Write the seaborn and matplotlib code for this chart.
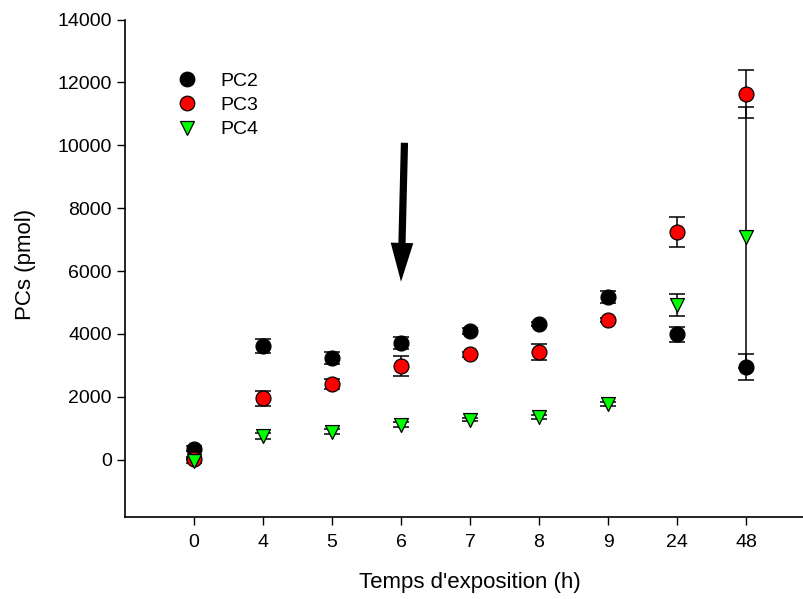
import matplotlib
matplotlib.use("Agg")
import matplotlib.pyplot as plt
import seaborn as sns
import pandas as pd
import numpy as np
from matplotlib.lines import Line2D

# ---- data ----
times = ["0", "4", "5", "6", "7", "8", "9", "24", "48"]
pc2 = [350, 3610, 3240, 3720, 4090, 4320, 5180, 3990, 2950]
pc2_err = [80, 220, 190, 190, 90, 60, 190, 240, 420]
pc3 = [40, 1950, 2410, 2980, 3350, 3430, 4440, 7250, 11630]
pc3_err = [60, 240, 150, 320, 70, 250, 60, 480, 760]
pc4 = [-40, 760, 890, 1110, 1280, 1370, 1770, 4920, 7070]
pc4_err = [50, 100, 80, 80, 60, 60, 60, 360, 4160]
series = ["PC2", "PC3", "PC4"]
y_ticks = [0, 2000, 4000, 6000, 8000, 10000, 12000, 14000]
arrow_time = "6"
arrow_from, arrow_to = 10080, 5660

sns.set_theme(style="white")
plt.rcParams["font.family"] = ["Liberation Sans", "DejaVu Sans"]
plt.rcParams["text.color"] = "black"
plt.rcParams["axes.labelcolor"] = "black"

rows = []
for name, vals, errs in zip(series, [pc2, pc3, pc4], [pc2_err, pc3_err, pc4_err]):
    for i, (t, v, e) in enumerate(zip(times, vals, errs)):
        rows.append({"idx": i, "time": t, "value": v, "err": e, "series": name})
df = pd.DataFrame(rows)

fig = plt.figure(figsize=(8.04, 5.99), dpi=100)
ax = fig.add_axes([125 / 804, 1 - 517 / 599, 1 - 125 / 804, (517 - 19.5) / 599])

palette = {"PC2": "black", "PC3": "#ff0000", "PC4": "#00ff00"}
markers = {"PC2": "o", "PC3": "o", "PC4": "v"}
sizes = {"PC2": 115, "PC3": 115, "PC4": 100}

# error bars first (behind markers)
for name in series:
    d = df[df.series == name]
    ax.errorbar(d["idx"], d["value"], yerr=d["err"], fmt="none", ecolor="black",
                elinewidth=1.1, capsize=5.5, capthick=1.1, zorder=2)

for k, name in enumerate(series):
    d = df[df.series == name]
    sns.scatterplot(data=d, x="idx", y="value", color=palette[name], marker=markers[name],
                    s=sizes[name], edgecolor="black", linewidth=0.9, ax=ax, zorder=3 + k,
                    legend=False)

ax.set_xlim(-1.0, 8.84)
ax.set_ylim(-1820, 14000)
ax.set_xticks(range(len(times)))
ax.set_xticklabels(times)
ax.set_yticks(y_ticks)
ax.set_yticklabels([str(t) for t in y_ticks])

for s in ["top", "right"]:
    ax.spines[s].set_visible(False)
for s in ["left", "bottom"]:
    ax.spines[s].set_color("black")
    ax.spines[s].set_linewidth(1.2)

ax.tick_params(axis="both", which="major", direction="out", length=5.5, width=1.0,
               colors="black", labelsize=14, bottom=True, left=True)
ax.tick_params(axis="x", pad=7)
ax.tick_params(axis="y", pad=4)

ax.set_xlabel("Temps d'exposition (h)", fontsize=16, color="black")
ax.set_ylabel("PCs (pmol)", fontsize=16, color="black")
ax.xaxis.set_label_coords((470 - 125) / 679, (517 - 572) / 497.5)
ax.yaxis.set_label_coords((36 - 125) / 679, (517 - 264) / 497.5)

# arrow pointing at the 6 h time point
ai = times.index(arrow_time)
ax.annotate("", xy=(ai, arrow_to), xytext=(ai + 0.05, arrow_from),
            arrowprops=dict(arrowstyle="simple,head_length=2.8,head_width=1.63,tail_width=0.52",
                            mutation_scale=10, lw=0, color="black", shrinkA=0, shrinkB=0))

handles = [
    Line2D([], [], marker="o", color="none", markerfacecolor="black", markeredgecolor="black",
           markersize=10.5, markeredgewidth=0.9, linestyle="none"),
    Line2D([], [], marker="o", color="none", markerfacecolor="#ff0000", markeredgecolor="black",
           markersize=10.5, markeredgewidth=0.9, linestyle="none"),
    Line2D([], [], marker="v", color="none", markerfacecolor="#00ff00", markeredgecolor="black",
           markersize=10, markeredgewidth=0.9, linestyle="none"),
]
leg = ax.legend(handles, series, loc="upper left", bbox_to_anchor=(0.063, 0.91),
                frameon=False, fontsize=14, handletextpad=1.1, labelspacing=0.35,
                handlelength=1.2, borderaxespad=0)
for t in leg.get_texts():
    t.set_color("black")

fig.savefig("out.png", dpi=100)
